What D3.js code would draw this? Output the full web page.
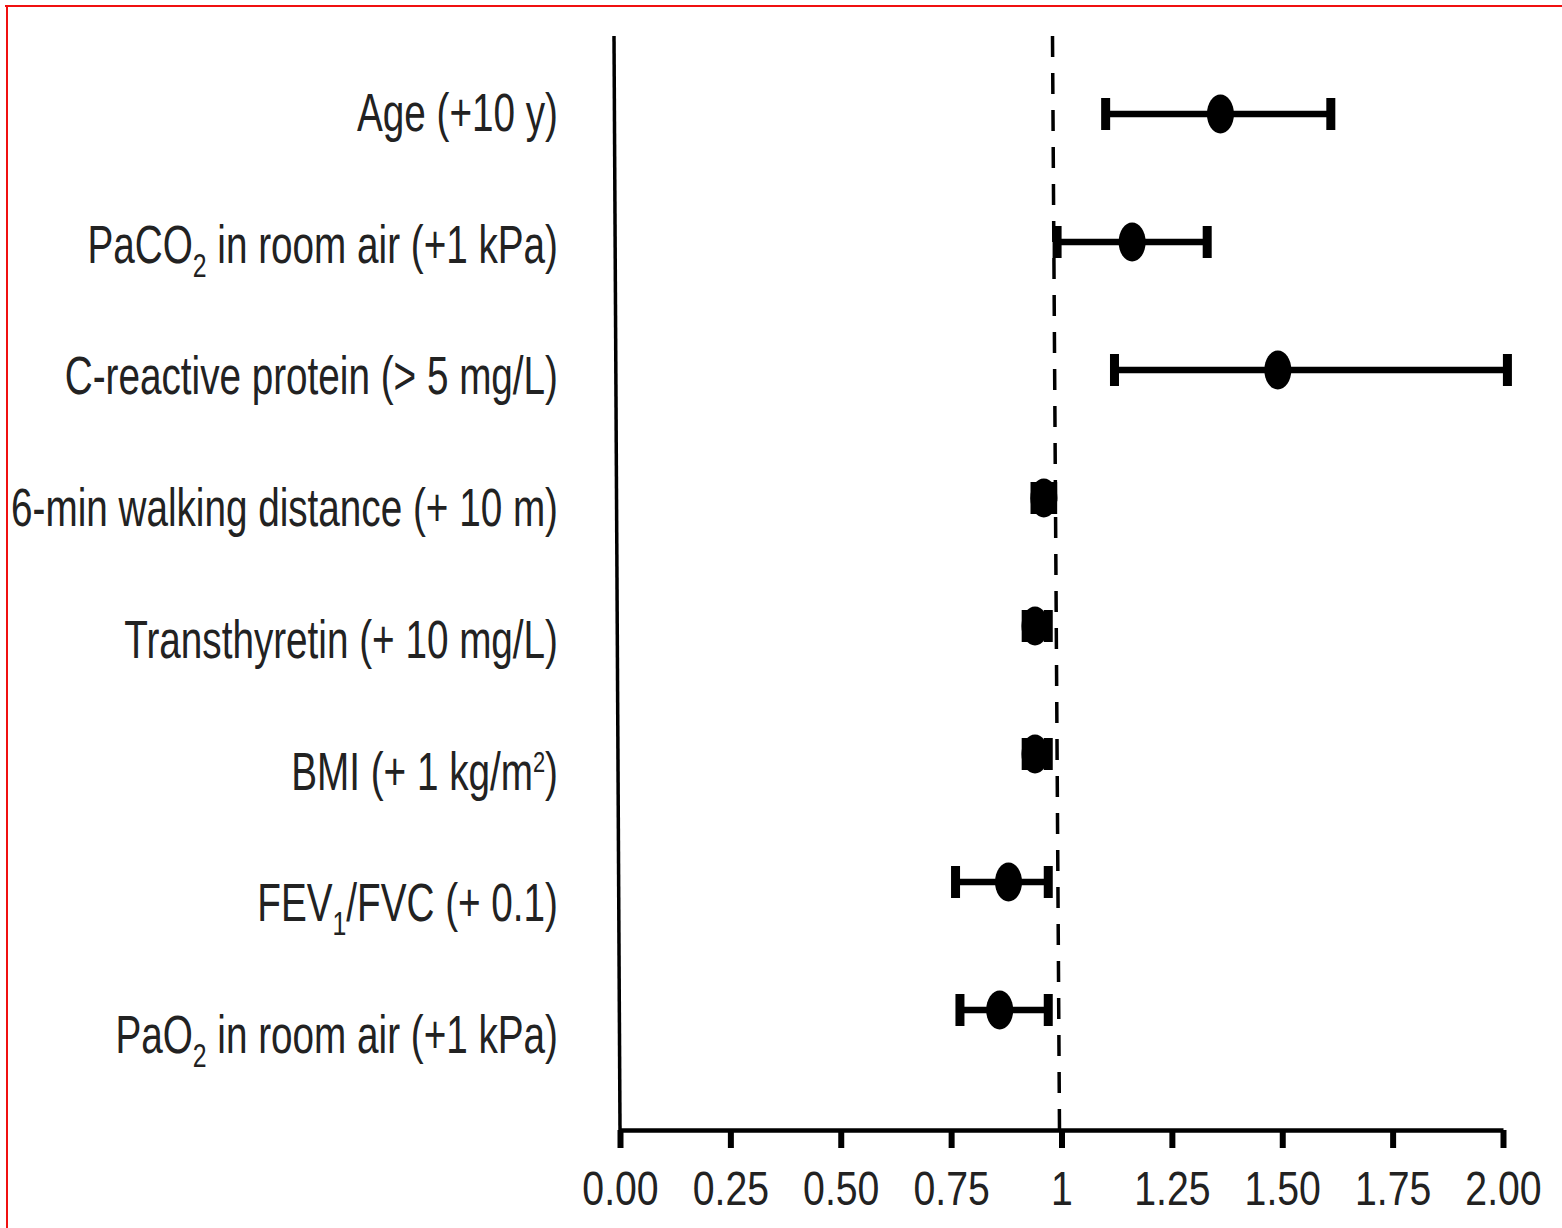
<!DOCTYPE html>
<html>
<head>
    <script src="https://d3js.org/d3.v7.min.js"></script>
    <style>
        body { margin: 0; background: #fff; }
        text { font-family: "Liberation Sans", Arial, sans-serif; fill: #222; }
    </style>
</head>
<body>
<div id="grafik"></div>

<script>
    // data (odds ratio with 95% CI)
    var categories = [
        "Age (+10 y)",
        "PaCO_{2} in room air (+1 kPa)",
        "C-reactive protein (> 5 mg/L)",
        "6-min walking distance (+ 10 m)",
        "Transthyretin (+ 10 mg/L)",
        "BMI (+ 1 kg/m^{2})",
        "FEV_{1}/FVC (+ 0.1)",
        "PaO_{2} in room air (+1 kPa)"
    ];
    var oddsRatio = [1.36, 1.16, 1.49, 0.96, 0.94, 0.94, 0.88, 0.86];
    var ciLower   = [1.10, 0.99, 1.12, 0.94, 0.92, 0.92, 0.76, 0.77];
    var ciUpper   = [1.61, 1.33, 2.01, 0.98, 0.97, 0.97, 0.97, 0.97];
    var tickValues = [0, 0.25, 0.5, 0.75, 1, 1.25, 1.5, 1.75, 2];
    var tickLabels = ["0.00", "0.25", "0.50", "0.75", "1", "1.25", "1.50", "1.75", "2.00"];

    var W = 1562, H = 1228;
    var plotTop = 36, plotBottom = 1130;

    var svg = d3.select("#grafik")
        .append("svg")
        .attr("width", W)
        .attr("height", H);

    // red frame (top and left edges only are visible)
    svg.append("line").attr("x1", 5).attr("x2", W).attr("y1", 6).attr("y2", 6)
        .attr("stroke", "#f01010").attr("stroke-width", 2);
    svg.append("line").attr("x1", 7).attr("x2", 7).attr("y1", 5).attr("y2", H)
        .attr("stroke", "#f01010").attr("stroke-width", 2);

    var xScale = d3.scaleLinear()
        .domain([0, 2])
        .range([620, 1503]);

    // row positions for the marks
    var yScale = d3.scalePoint()
        .domain(categories)
        .range([114, 1010]);

    // label positions (sit a little lower than the bars in the original)
    var yLabel = d3.scalePoint()
        .domain(categories)
        .range([112, 1034]);

    // left vertical axis line
    svg.append("line")
        .attr("x1", xScale(0) - 6).attr("y1", plotTop)
        .attr("x2", xScale(0)).attr("y2", plotBottom)
        .attr("stroke", "#000").attr("stroke-width", 3.5);

    // reference line at OR = 1
    svg.append("line")
        .attr("x1", xScale(1) - 9).attr("y1", plotTop)
        .attr("x2", xScale(1) - 2).attr("y2", plotBottom)
        .attr("stroke", "#000").attr("stroke-width", 3.5)
        .attr("stroke-dasharray", "21 16");

    // x axis
    var xAxis = d3.axisBottom(xScale)
        .tickValues(tickValues)
        .tickFormat(function(d, i) { return tickLabels[i]; })
        .tickSize(18)
        .tickSizeOuter(0);

    var gx = svg.append("g")
        .attr("class", "x-axis")
        .attr("transform", "translate(0," + plotBottom + ")")
        .call(xAxis);
    gx.select(".domain").attr("stroke", "#000").attr("stroke-width", 4.5);
    gx.selectAll(".tick line").attr("stroke", "#000").attr("stroke-width", 6);
    gx.selectAll(".tick text")
        .attr("y", 75).attr("dy", null)
        .attr("font-size", 49)
        .attr("transform", "scale(0.8,1)")
        .style("font-family", "'Liberation Sans', Arial, sans-serif")
        .attr("fill", "#222");

    // category labels with sub/superscripts, horizontally condensed
    var labelG = svg.append("g")
        .attr("transform", "translate(558,0) scale(0.73,1)");

    categories.forEach(function(c) {
        var t = labelG.append("text")
            .attr("x", 0)
            .attr("y", yLabel(c) + 19)
            .attr("text-anchor", "end")
            .attr("font-size", 53);
        var parts = c.split(/(_\{[^}]*\}|\^\{[^}]*\})/);
        var shift = 0;
        parts.forEach(function(p) {
            if (!p) return;
            if (p[0] === "_") {
                t.append("tspan").attr("dy", 14).attr("font-size", 34).text(p.slice(2, -1));
                shift = -14;
            } else if (p[0] === "^") {
                t.append("tspan").attr("dy", -18).attr("font-size", 30).text(p.slice(2, -1));
                shift = 18;
            } else {
                var ts = t.append("tspan").text(p);
                if (shift) ts.attr("dy", shift);
                shift = 0;
            }
        });
    });

    var rows = categories.map(function(c, i) {
        return { cat: c, or: oddsRatio[i], lo: ciLower[i], hi: ciUpper[i] };
    });

    var marks = svg.append("g").attr("class", "marks");

    // CI lines
    marks.selectAll("line.ci")
        .data(rows)
        .enter()
        .append("line")
        .attr("class", "ci")
        .attr("x1", function(d) { return xScale(d.lo); })
        .attr("x2", function(d) { return xScale(d.hi); })
        .attr("y1", function(d) { return yScale(d.cat); })
        .attr("y2", function(d) { return yScale(d.cat); })
        .attr("stroke", "#000")
        .attr("stroke-width", 6.5);

    // caps
    var caps = [];
    rows.forEach(function(d) {
        caps.push({ cat: d.cat, v: d.lo });
        caps.push({ cat: d.cat, v: d.hi });
    });
    marks.selectAll("rect.cap")
        .data(caps)
        .enter()
        .append("rect")
        .attr("class", "cap")
        .attr("x", function(d) { return xScale(d.v) - 4.5; })
        .attr("y", function(d) { return yScale(d.cat) - 16; })
        .attr("width", 9)
        .attr("height", 32)
        .attr("fill", "#000");

    // point estimates
    marks.selectAll("ellipse")
        .data(rows)
        .enter()
        .append("ellipse")
        .attr("cx", function(d) { return xScale(d.or); })
        .attr("cy", function(d) { return yScale(d.cat); })
        .attr("rx", 13.5)
        .attr("ry", 19.5)
        .attr("fill", "#000");
</script>
</body>
</html>
